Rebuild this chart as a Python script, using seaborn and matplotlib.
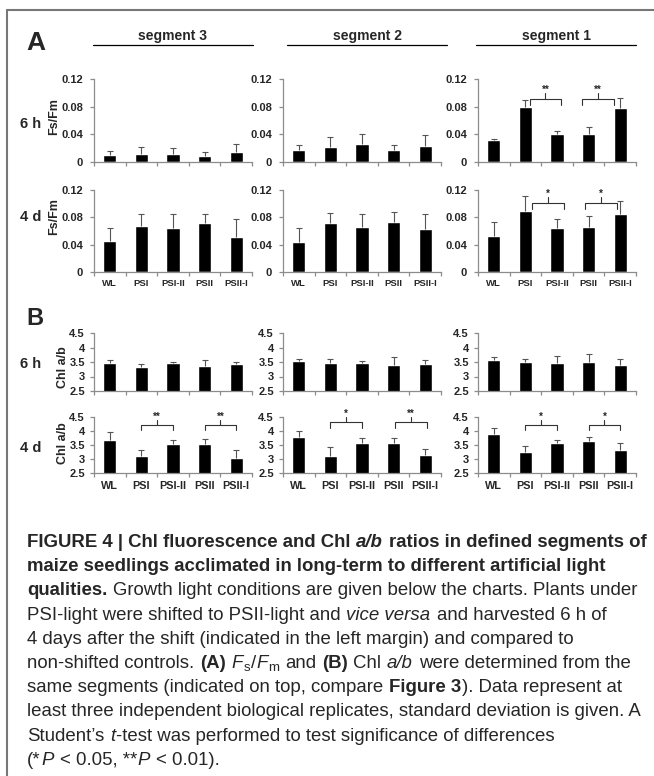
import numpy as np
import pandas as pd
import matplotlib
matplotlib.use("Agg")
import matplotlib.pyplot as plt
from matplotlib.lines import Line2D
from matplotlib.font_manager import FontProperties
import seaborn as sns

sns.set_style("ticks")
plt.rcParams['font.family'] = ['Liberation Sans', 'DejaVu Sans']

ANCHO, ALTO = 654, 776
GRIS = "#8c8c8c"
GRIS_ERR = "#555555"

# ---------------- datos ----------------
condiciones = ["WL", "PSI", "PSI-II", "PSII", "PSII-I"]
segmentos = ["segment 3", "segment 2", "segment 1"]

# Fs/Fm, una lista por segmento (3, 2, 1)
fsfm_6h = [[0.0106, 0.0116, 0.0116, 0.0090, 0.0145],
           [0.0173, 0.0217, 0.0260, 0.0173, 0.0230],
           [0.0323, 0.0790, 0.0410, 0.0405, 0.0780]]
fsfm_6h_sd = [[0.0060, 0.0100, 0.0080, 0.0060, 0.0115],
              [0.0073, 0.0140, 0.0140, 0.0073, 0.0160],
              [0.0008, 0.0110, 0.0033, 0.0095, 0.0145]]
fsfm_4d = [[0.0447, 0.0675, 0.0646, 0.0724, 0.0510],
           [0.0437, 0.0714, 0.0660, 0.0739, 0.0622],
           [0.0520, 0.0894, 0.0637, 0.0660, 0.0845]]
fsfm_4d_sd = [[0.0190, 0.0180, 0.0210, 0.0130, 0.0260],
              [0.0200, 0.0156, 0.0195, 0.0141, 0.0233],
              [0.0219, 0.0216, 0.0143, 0.0156, 0.0200]]

# Chl a/b
chl_6h = [[3.48, 3.34, 3.45, 3.36, 3.43],
          [3.53, 3.45, 3.45, 3.41, 3.43],
          [3.56, 3.51, 3.45, 3.49, 3.41]]
chl_6h_sd = [[0.10, 0.10, 0.06, 0.22, 0.06],
             [0.08, 0.14, 0.10, 0.26, 0.13],
             [0.12, 0.10, 0.26, 0.27, 0.20]]
chl_4d = [[3.67, 3.12, 3.52, 3.55, 3.05],
          [3.79, 3.11, 3.58, 3.58, 3.16],
          [3.91, 3.25, 3.56, 3.63, 3.32]]
chl_4d_sd = [[0.29, 0.21, 0.17, 0.18, 0.27],
             [0.21, 0.33, 0.16, 0.16, 0.19],
             [0.21, 0.21, 0.12, 0.15, 0.26]]

# significancia: (segmento, cond1, cond2, etiqueta)
sig_fsfm_6h = [(2, "PSI", "PSI-II", "**"), (2, "PSII", "PSII-I", "**")]
sig_fsfm_4d = [(2, "PSI", "PSI-II", "*"), (2, "PSII", "PSII-I", "*")]
sig_chl_4d = [(0, "PSI", "PSI-II", "**"), (0, "PSII", "PSII-I", "**"),
              (1, "PSI", "PSI-II", "*"), (1, "PSII", "PSII-I", "**"),
              (2, "PSI", "PSI-II", "*"), (2, "PSII", "PSII-I", "*")]

# posicion de los corchetes (altura, bajada, desplazamiento x), mismo orden
pos_fsfm_6h = [(0.091, 0.009, 0.13), (0.091, 0.009, -0.2)]
pos_fsfm_4d = [(0.1015, 0.0095, 0.22), (0.1015, 0.0095, -0.1)]
pos_chl_4d = [(4.23, 0.18, 0.0), (4.23, 0.18, 0.0),
              (4.32, 0.20, 0.0), (4.32, 0.20, 0.06),
              (4.23, 0.19, 0.0), (4.23, 0.19, 0.0)]


def fx(px):
    return px / ANCHO


def fy(py):
    return 1 - py / ALTO


fig = plt.figure(figsize=(ANCHO / 100, ALTO / 100), dpi=100)

cols_px = [94, 283, 478]
ancho_px = 158


def crear_ax(col, top, bottom):
    return fig.add_axes([fx(cols_px[col]), fy(bottom), fx(ancho_px), (bottom - top) / ALTO])


def dibujar(ax, medias, sd, ylim, yticks, ylabels, y_fs, y_pad, x_fs, x_pad, con_x):
    df = pd.DataFrame({"cond": condiciones, "valor": medias, "sd": sd})
    sns.barplot(data=df, x="cond", y="valor", order=condiciones, color="black",
                saturation=1, width=0.42, errorbar=None, ax=ax, zorder=2)
    pos = np.arange(len(condiciones))
    _, caps, _ = ax.errorbar(pos, df["valor"], yerr=[np.zeros(len(df)), df["sd"]],
                             fmt="none", ecolor=GRIS_ERR, elinewidth=0.8,
                             capsize=2.2, capthick=0.8, zorder=3)
    for c in caps:
        if np.allclose(c.get_ydata(), df["valor"]):
            c.set_visible(False)
    ax.set_xlim(-0.5, len(condiciones) - 0.5)
    ax.set_ylim(*ylim)
    ax.set_yticks(yticks)
    ax.set_yticklabels(ylabels, fontweight="bold", fontsize=y_fs)
    ax.set_xticks(pos)
    ax.set_xticks(np.arange(-0.5, len(condiciones), 1), minor=True)
    if con_x:
        ax.set_xticklabels(condiciones, fontweight="bold", fontsize=x_fs)
    else:
        ax.set_xticklabels([])
    ax.tick_params(axis="x", which="major", length=0, pad=x_pad)
    ax.tick_params(axis="x", which="minor", length=3, color=GRIS, width=0.9)
    ax.tick_params(axis="y", length=3, color=GRIS, width=0.9, pad=y_pad)
    for s in ["top", "right"]:
        ax.spines[s].set_visible(False)
    for s in ["left", "bottom"]:
        ax.spines[s].set_color(GRIS)
        ax.spines[s].set_linewidth(0.9)
    ax.set_xlabel("")
    ax.set_ylabel("")


def corchete(ax, c1, c2, etiqueta, y, d, dx):
    x1 = condiciones.index(c1) + dx
    x2 = condiciones.index(c2) + dx
    xm = (x1 + x2) / 2
    ax.plot([x1, x1, x2, x2], [y - d, y, y, y - d], color="#333333", lw=0.8,
            clip_on=False, zorder=4)
    ax.plot([xm, xm], [y, y + d * 0.9], color="#333333", lw=0.8, clip_on=False, zorder=4)
    ax.text(xm, y + d * 0.95, etiqueta, ha="center", va="baseline", fontsize=7,
            fontweight="bold", clip_on=False)


# ---------------- panel A ----------------
filas_a = [(79, 162, fsfm_6h, fsfm_6h_sd, False), (190, 272, fsfm_4d, fsfm_4d_sd, True)]
ejes_a = []
for top, bottom, medias, sd, con_x in filas_a:
    fila = []
    for j in range(3):
        ax = crear_ax(j, top, bottom)
        dibujar(ax, medias[j], sd[j], (0, 0.12), [0, 0.04, 0.08, 0.12],
                ["0", "0.04", "0.08", "0.12"], 8, 5, 6.8, 5, con_x)
        fila.append(ax)
    ejes_a.append(fila)

for (seg, c1, c2, et), (y, d, dx) in zip(sig_fsfm_6h, pos_fsfm_6h):
    corchete(ejes_a[0][seg], c1, c2, et, y, d, dx)
for (seg, c1, c2, et), (y, d, dx) in zip(sig_fsfm_4d, pos_fsfm_4d):
    corchete(ejes_a[1][seg], c1, c2, et, y, d, dx)

# ---------------- panel B ----------------
filas_b = [(333, 391, chl_6h, chl_6h_sd, False), (417, 473, chl_4d, chl_4d_sd, True)]
ejes_b = []
for top, bottom, medias, sd, con_x in filas_b:
    fila = []
    for j in range(3):
        ax = crear_ax(j, top, bottom)
        dibujar(ax, medias[j], sd[j], (2.5, 4.5), [2.5, 3, 3.5, 4, 4.5],
                ["2.5", "3", "3.5", "4", "4.5"], 8, 3.5, 7.8, 6, con_x)
        fila.append(ax)
    ejes_b.append(fila)

for (seg, c1, c2, et), (y, d, dx) in zip(sig_chl_4d, pos_chl_4d):
    corchete(ejes_b[1][seg], c1, c2, et, y, d, dx)

# ---------------- textos del panel ----------------
fig.text(fx(26), fy(50), "A", fontsize=19, fontweight="bold", va="baseline")
fig.text(fx(26), fy(325), "B", fontsize=17, fontweight="bold", va="baseline")

lineas_seg = [(93, 253), (287, 447), (476, 636)]
for nombre, (x0, x1) in zip(segmentos, lineas_seg):
    fig.text(fx((x0 + x1) / 2), fy(40), nombre, fontsize=10, fontweight="bold",
             ha="center", va="baseline")
    fig.add_artist(Line2D([fx(x0), fx(x1)], [fy(45), fy(45)], color="black", lw=0.9))

for texto, yb in [("6 h", 128), ("4 d", 221), ("6 h", 368), ("4 d", 452)]:
    fig.text(fx(20), fy(yb), texto, fontsize=10.5, fontweight="bold", va="baseline")

for texto, xc, yc in [("Fs/Fm", 54, 117), ("Fs/Fm", 54, 217),
                      ("Chl a/b", 63, 367), ("Chl a/b", 63, 443)]:
    fig.text(fx(xc), fy(yc), texto, fontsize=9, fontweight="bold", rotation=90,
             ha="center", va="center")

# ---------------- marco ----------------
fig.add_artist(Line2D([fx(7), fx(7)], [fy(10), 0], color="#777777", lw=1.5))
fig.add_artist(Line2D([fx(7), 1], [fy(10), fy(10)], color="#777777", lw=1.5))

# ---------------- leyenda de la figura ----------------
N = ("normal", "normal")
NB = ("bold", "normal")
IT = ("normal", "italic")
BI = ("bold", "italic")
SUB = ("sub", "normal")

leyenda = [
    [("FIGURE 4 | Chl fluorescence and Chl ", NB), ("a/b", BI), (" ratios in defined segments of", NB)],
    [("maize seedlings acclimated in long-term to different artificial light", NB)],
    [("qualities.", NB), (" Growth light conditions are given below the charts. Plants under", N)],
    [("PSI-light were shifted to PSII-light and ", N), ("vice versa", IT), (" and harvested 6 h of", N)],
    [("4 days after the shift (indicated in the left margin) and compared to", N)],
    [("non-shifted controls. ", N), ("(A)", NB), (" ", N), ("F", IT), ("s", SUB), ("/", N),
     ("F", IT), ("m", SUB), (" and ", N), ("(B)", NB), (" Chl ", N), ("a/b", IT),
     (" were determined from the", N)],
    [("same segments (indicated on top, compare ", N), ("Figure 3", NB), ("). Data represent at", N)],
    [("least three independent biological replicates, standard deviation is given. A", N)],
    [("Student\u2019s ", N), ("t", IT), ("-test was performed to test significance of differences", N)],
    [("(*", N), ("P", IT), (" < 0.05, **", N), ("P", IT), (" < 0.01).", N)],
]

renderer = fig.canvas.get_renderer()


def prop(estilo, size):
    peso, forma = estilo
    if peso == "sub":
        return FontProperties(family="Liberation Sans", size=size * 0.72)
    return FontProperties(family="Liberation Sans", weight=peso, style=forma, size=size)


def ancho(txt, fp):
    return renderer.get_text_width_height_descent(txt, fp, ismath=False)[0]


def ancho_esp(fp):
    return ancho("n n", fp) - ancho("nn", fp)


def espacios(txt):
    core = txt.strip(" ")
    if not core:
        return len(txt), 0, core
    return len(txt) - len(txt.lstrip(" ")), len(txt) - len(txt.rstrip(" ")), core


def ancho_linea(runs, size):
    total = 0
    for txt, est in runs:
        fp = prop(est, size)
        lead, trail, core = espacios(txt)
        total += (ancho(core, fp) if core else 0) + (lead + trail) * ancho_esp(fp)
    return total


# tamaño de letra ajustado al ancho de las lineas de referencia
size_n = 10 * (645 - 27) / ancho_linea(leyenda[7], 10)
size_b = 10 * (648 - 27) / ancho_linea(leyenda[0], 10)

x_ini = 27
y_ini = 547
paso = 24.2
for i, runs in enumerate(leyenda):
    size = size_b if i < 2 else size_n
    x = x_ini
    yb = y_ini + i * paso
    for txt, est in runs:
        fp = prop(est, size)
        lead, trail, core = espacios(txt)
        x += lead * ancho_esp(fp)
        if core:
            dy = 3 if est[0] == "sub" else 0
            fig.text(fx(x), fy(yb + dy), core, fontproperties=fp, va="baseline", ha="left")
            x += ancho(core, fp) + (1 if est in (IT, BI) else 0.5)
        x += trail * ancho_esp(fp)

fig.savefig("out.png", dpi=100, facecolor="white")
